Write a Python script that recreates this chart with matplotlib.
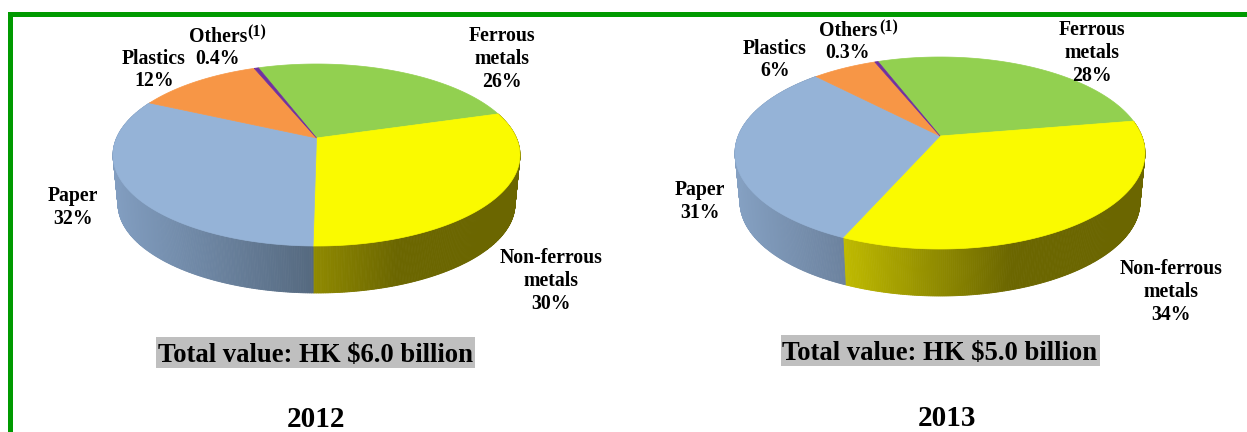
import numpy as np
import matplotlib
matplotlib.use("Agg")
import matplotlib.pyplot as plt
from matplotlib.patches import Polygon, Rectangle
from matplotlib.colors import to_rgb

# ---- data ----
categories = ["Ferrous\nmetals", "Non-ferrous\nmetals", "Paper", "Plastics", "Others"]
values_2012 = [26, 30, 32, 12, 0.4]
values_2013 = [28, 34, 31, 6, 0.3]
labels_2012 = ["26%", "30%", "32%", "12%", "0.4%"]
labels_2013 = ["28%", "34%", "31%", "6%", "0.3%"]
totals = ["Total value: HK $6.0 billion", "Total value: HK $5.0 billion"]
years = ["2012", "2013"]

# ---- styles ----
colors = ["#92D050", "#FAFA00", "#95B3D7", "#F79646", "#7030A0"]
GREEN = "#009A00"
SERIF = "Liberation Serif"

pie_2012 = dict(cx=316.5, cy=155, a=203.5, b=91, d=0.187, depth=49, shrink=5, start=-20,
                grads={1: [(313, "#908A00"), (395, "#6B6600"), (520, "#6B6600")],
                       2: [(113, "#839FC2"), (313, "#55697F")]},
                label_pos=[(502, 59), (551, 281), (73, 208), (154, 70), (218, 48)],
                sup=(257, 32), total_pos=(316, 355), box=(156, 337, 319, 31), year_pos=(316, 419.5))
pie_2013 = dict(cx=940, cy=153, a=205, b=96, d=0.177, depth=49, shrink=5, start=-21,
                grads={1: [(846, "#BFBA00"), (1010, "#6B6600"), (1145, "#6B6600")],
                       2: [(735, "#86A2C4"), (846, "#6C829E")]},
                label_pos=[(1092, 53), (1171, 292), (700, 201), (775, 60), (848, 42)],
                sup=(889, 27), total_pos=(940, 353), box=(781, 335, 319, 31), year_pos=(947, 419))


def project(theta, d):
    """Clockwise angle from top on a disc, seen in perspective (unit-circle preserving)."""
    x, y = np.sin(theta), np.cos(theta)
    den = 1 + d * y
    return x * np.sqrt(1 - d ** 2) / den, (y + d) / den


def grad_color(stops, x):
    xs = [s[0] for s in stops]
    rgb = np.array([to_rgb(s[1]) for s in stops])
    return [float(np.interp(x, xs, rgb[:, i])) for i in range(3)]


def draw_pie(ax, values, labels, spec, total, year):
    vals = np.array(values, float)
    edges = np.radians(spec["start"] + np.concatenate([[0], np.cumsum(vals) / vals.sum()]) * 360)
    cx, cy, a, b, d = spec["cx"], spec["cy"], spec["a"], spec["b"], spec["d"]
    a2, b2 = a - spec["shrink"], b - 2
    cy2 = cy + b + spec["depth"] - b2 - 2

    # side walls (gradient)
    for i, stops in spec["grads"].items():
        th = np.linspace(edges[i], edges[i + 1], 260)
        px, py = project(th, d)
        tx, ty = cx + a * px, cy - b * py
        lx, ly = cx + a2 * px, cy2 - b2 * py
        for k in range(len(th) - 1):
            c = grad_color(stops, 0.5 * (lx[k] + lx[k + 1]))
            ax.add_patch(Polygon([(tx[k], ty[k]), (tx[k + 1], ty[k + 1]), (lx[k + 1], ly[k + 1]), (lx[k], ly[k])],
                                 closed=True, fc=c, ec=c, lw=0.6, zorder=2))

    # top surface
    apex = (cx, cy - b * d)
    for i, c in enumerate(colors):
        th = np.linspace(edges[i], edges[i + 1], 200)
        px, py = project(th, d)
        pts = [apex] + list(zip(cx + a * px, cy - b * py))
        ax.add_patch(Polygon(pts, closed=True, fc=c, ec=c, lw=0.5, zorder=3))

    # labels
    for cat, lab, pos in zip(categories, labels, spec["label_pos"]):
        ax.text(pos[0], pos[1], f"{cat}\n{lab}", ha="center", va="center", family=SERIF, weight="bold",
                fontsize=14.2, linespacing=1.2, color="black", zorder=5)
    ax.text(spec["sup"][0], spec["sup"][1], "(1)", ha="center", va="center", family=SERIF, weight="bold",
            fontsize=11.5, color="black", zorder=5)

    bx = spec["box"]
    ax.add_patch(Rectangle((bx[0], bx[1]), bx[2], bx[3], fc="#BFBFBF", ec="none", zorder=1))
    ax.text(spec["total_pos"][0], spec["total_pos"][1], total, ha="center", va="center", family=SERIF,
            weight="bold", fontsize=19.2, color="black", zorder=5)
    ax.text(spec["year_pos"][0], spec["year_pos"][1], year, ha="center", va="center", family=SERIF,
            weight="bold", fontsize=21, color="black", zorder=5)


fig = plt.figure(figsize=(12.47, 4.32), dpi=100, facecolor="white")
ax = fig.add_axes([0, 0, 1, 1])
ax.set_xlim(0, 1247)
ax.set_ylim(432, 0)
ax.axis("off")

# green frame
ax.add_patch(Rectangle((8, 12), 1239, 5, fc=GREEN, ec="none"))
ax.add_patch(Rectangle((8, 12), 5, 420, fc=GREEN, ec="none"))

draw_pie(ax, values_2012, labels_2012, pie_2012, totals[0], years[0])
draw_pie(ax, values_2013, labels_2013, pie_2013, totals[1], years[1])

fig.savefig("out.png", dpi=100)
